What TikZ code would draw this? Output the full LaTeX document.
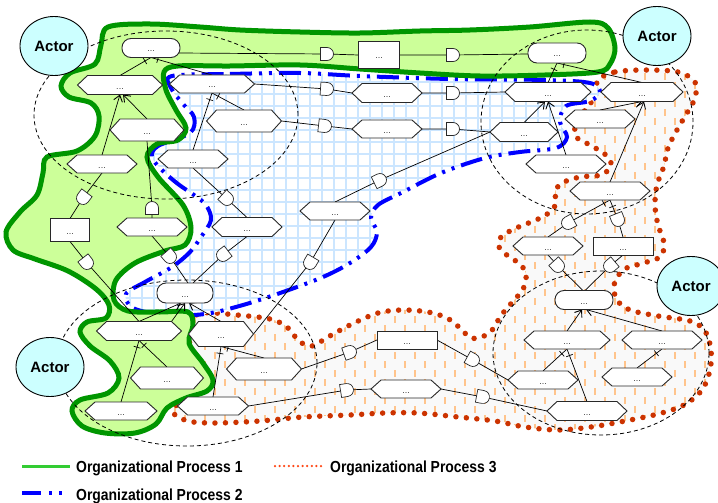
\documentclass[tikz,border=0pt]{standalone}
\usepackage{fontspec}
\setmainfont{Liberation Sans}
\newfontfamily\legfont{Liberation Sans}[FakeStretch=0.87]
\usetikzlibrary{shapes.geometric,shapes.misc,arrows.meta,decorations.markings}
\pgfdeclarelayer{back}
\pgfdeclarelayer{mid}
\pgfsetlayers{back,mid,main}
\definecolor{greenfill}{RGB}{204,255,153}
\definecolor{greenline}{RGB}{0,150,0}
\definecolor{leggreen}{RGB}{51,204,51}
\definecolor{reddot}{RGB}{204,51,0}
\definecolor{legred}{RGB}{255,70,20}
\definecolor{gridblue}{RGB}{204,230,255}
\definecolor{redbg}{RGB}{249,249,249}
\definecolor{dashor}{RGB}{255,196,140}
\definecolor{actorfill}{RGB}{204,255,255}
\definecolor{nodeline}{RGB}{40,40,40}
\definecolor{dotgray}{RGB}{60,60,60}
\newcommand{\actorfont}{\fontsize{15}{18}\selectfont\bfseries}
\newcommand{\dotsfont}{\fontsize{9}{9}\selectfont}
\newcommand{\legendfont}{\legfont\fontsize{16}{19}\selectfont\bfseries}

\newcommand{\greenshape}[1]{#1 plot[smooth cycle, tension=0.55] coordinates {
(108,27) (150,24) (200,27) (240,30) (300,32) (360,33) (420,31) (470,30) (530,27) (590,22) (608,28) (615,48) (610,64) (598,72) (545,75) (480,76) (420,73) (360,69) (300,65) (230,66) (178,66) (164,72) (166,90) (176,110) (186,128) (178,140) (157,144) (147,157) (158,177) (183,205) (191,228) (185,245) (165,251) (135,263) (116,280) (114,300) (128,311) (160,312) (188,312) (193,325) (189,343) (203,363) (213,380) (207,391) (186,398) (167,408) (156,424) (135,433) (105,433) (82,426) (72,411) (80,400) (108,393) (119,378) (110,361) (90,346) (80,332) (87,322) (106,318) (109,305) (96,289) (68,271) (35,259) (13,250) (6,232) (20,212) (37,195) (43,173) (47,157) (77,151) (95,136) (99,116) (91,103) (69,97) (61,86) (70,73) (95,64) (101,45)};}

\newcommand{\blueshape}[1]{#1 plot[smooth cycle, tension=0.55] coordinates {
(172,76) (230,74) (300,73) (360,76) (450,79) (545,80) (590,83) (600,92) (590,101) (566,106) (560,122) (567,137) (556,148) (520,152) (485,158) (441,173) (403,192) (378,205) (371,218) (377,232) (371,247) (350,263) (323,277) (283,292) (243,305) (205,314) (165,315) (133,308) (126,294) (145,282) (172,267) (190,252) (201,237) (211,220) (206,205) (194,195) (178,184) (162,170) (152,157) (158,146) (190,133) (194,117) (183,104) (171,88)};}

\newcommand{\redshape}[1]{#1 plot[smooth cycle, tension=0.55] coordinates {
(598,80) (615,72) (645,70) (678,72) (695,82) (695,98) (687,113) (677,130) (668,148) (664,166) (657,185) (655,205) (658,225) (664,243) (660,257) (640,264) (623,270) (614,285) (617,300) (630,310) (658,316) (690,321) (705,331) (711,350) (710,370) (702,390) (684,405) (658,414) (625,421) (591,427) (558,430) (525,427) (495,421) (458,417) (418,413) (385,413) (350,415) (303,417) (260,421) (215,423) (188,421) (173,412) (183,398) (197,385) (197,362) (190,345) (189,322) (203,313) (237,315) (270,319) (287,327) (299,341) (312,346) (328,337) (352,324) (378,313) (402,310) (428,312) (447,318) (460,328) (471,338) (484,336) (493,329) (500,317) (508,307) (517,297) (524,287) (526,274) (520,264) (508,256) (499,247) (501,237) (514,229) (531,222) (546,215) (556,204) (555,192) (562,183) (580,177) (601,175) (611,166) (607,156) (592,146) (576,137) (576,124) (586,109) (596,95)};}

\newcommand{\hexa}[5]{%
  \node[anc, minimum width=#4pt, minimum height=#5pt] (#1) at (#2,#3) {};
  \draw[nb, fill=white] (#1.west) -- ([xshift=10pt]#1.north west) -- ([xshift=-10pt]#1.north east) -- (#1.east) -- ([xshift=-10pt]#1.south east) -- ([xshift=10pt]#1.south west) -- cycle;
  \node[dotstxt] at ([yshift=-4pt]#1.center) {...};}
\newcommand{\pilln}[5]{%
  \node[pill, minimum width=#4pt, minimum height=#5pt] (#1) at (#2,#3) {};
  \node[dotstxt] at ([yshift=-4pt]#1.center) {...};}
\newcommand{\rectn}[5]{%
  \node[rbox, minimum width=#4pt, minimum height=#5pt] (#1) at (#2,#3) {};
  \node[dotstxt] at ([yshift=-4pt]#1.center) {...};}

\begin{document}
\begin{tikzpicture}[x=1pt,y=-1pt,
  nb/.style={draw=nodeline, line width=0.9pt},
  anc/.style={inner sep=0pt, outer sep=0pt},
  pill/.style={nb, fill=white, rounded corners=9pt, inner sep=0pt, outer sep=0pt},
  rbox/.style={nb, fill=white, inner sep=0pt, outer sep=0pt},
  dotstxt/.style={anchor=base, inner sep=0pt, font=\dotsfont, text=dotgray},
  gate/.style={shape=rounded rectangle, rounded rectangle left arc=none, draw=nodeline, fill=white, line width=0.7pt, minimum width=10pt, minimum height=13pt, inner sep=0pt, sloped, allow upside down, pos=1},
  conn/.style={line width=0.7pt, black},
  arr/.style={conn, -{Straight Barb[length=6pt,width=9pt,line width=0.9pt]}},
  dtick/.style={postaction={decorate}, decoration={markings, mark=at position 7pt with {\draw[line width=0.7pt] (0pt,-3.5pt) -- (0pt,3.5pt);}}},
  actor/.style={ellipse, draw, line width=0.9pt, fill=actorfill, minimum width=68pt, minimum height=59pt, inner sep=0pt, font=\actorfont},
  scopeline/.style={draw=black, line width=0.8pt, dash pattern=on 4pt off 3pt},
  reddots/.style={draw=reddot, line width=5.5pt, line cap=round, dash pattern=on 0pt off 10.5pt},
  bluedash/.style={draw=blue, line width=4pt, dash pattern=on 22pt off 7pt on 3pt off 7pt on 3pt off 7pt},
  orda/.style={dashor, line width=1.8pt, dash pattern=on 7pt off 11pt}
]
\useasboundingbox (0,0) rectangle (718,503);

\begin{pgfonlayer}{back}
\fill[white] (0,0) rectangle (718,503);
% Organizational Process 3
\begin{scope}
\redshape{\clip}
\fill[redbg] (160,50) rectangle (718,440);
\foreach \x in {165,185,...,716} \draw[orda] (\x,55) -- (\x,440);
\foreach \x in {175,195,...,716} \draw[orda, dash phase=9pt] (\x,55) -- (\x,440);
\end{scope}
\redshape{\draw[reddots]}
% Organizational Process 2
\begin{scope}
\blueshape{\clip}
\fill[white] (100,50) rectangle (620,340);
\foreach \x in {118,130,...,610} \draw[gridblue, line width=1.6pt] (\x,50) -- (\x,340);
\foreach \y in {58,70,...,335} \draw[gridblue, line width=1.6pt] (100,\y) -- (620,\y);
\end{scope}
\blueshape{\draw[bluedash]}
% Organizational Process 1
\greenshape{\draw[draw=greenline, line width=5pt, fill=greenfill]}
% actor scopes
\draw[scopeline] (166,115) ellipse [x radius=132pt, y radius=84pt];
\draw[scopeline] (587,122) ellipse [x radius=106pt, y radius=92pt];
\draw[scopeline] (187,363) ellipse [x radius=130pt, y radius=83pt];
\draw[scopeline] (601,353) ellipse [x radius=108pt, y radius=82pt];
\end{pgfonlayer}

% actors
\node[actor] (a1) at (54,46) {Actor};
\node[actor] (a2) at (657,36) {Actor};
\node[actor] (a3) at (50,367) {Actor};
\node[actor] (a4) at (691,286) {Actor};

% nodes
\pilln{n1}{151}{48}{58}{19}
\rectn{rct}{379}{55}{41}{27}
\pilln{rrtr}{557}{53}{58}{20}
\hexa{h1}{120}{85}{85}{19}
\hexa{h2}{212}{84}{85}{18}
\hexa{h3}{387}{93}{70}{19}
\hexa{h4}{548}{92}{86}{19}
\hexa{h5}{642}{92}{82}{19}
\hexa{h6}{147}{130}{74}{22}
\hexa{h7}{244}{121}{75}{22}
\hexa{h8}{387}{129}{70}{18}
\hexa{h9}{524}{132}{68}{19}
\hexa{h10}{600}{119}{70}{18}
\hexa{h11}{102}{164}{70}{18}
\hexa{h12}{193}{159}{70}{18}
\hexa{h13}{566}{164}{80}{18}
\hexa{h14}{610}{191}{80}{18}
\rectn{r1}{70}{230}{39}{23}
\hexa{h15}{152}{227}{70}{18}
\hexa{h16}{247}{227}{70}{19}
\hexa{h17}{335}{211}{70}{18}
\hexa{h18}{548}{246}{70}{18}
\rectn{r2}{623}{246}{60}{18}
\pilln{rr3}{584}{300}{58}{19}
\pilln{rr5}{185}{293}{56}{20}
\hexa{h19}{567}{340}{86}{18}
\hexa{h20}{662}{340}{80}{18}
\hexa{h21}{543}{380}{70}{18}
\hexa{h22}{637}{377}{70}{18}
\hexa{h23}{587}{411}{80}{19}
\rectn{r4}{407}{340}{60}{18}
\hexa{h24}{406}{389}{70}{18}
\hexa{h25}{139}{331}{85}{19}
\hexa{h26}{221}{334}{65}{25}
\hexa{h27}{167}{378}{73}{22}
\hexa{h28}{264}{369}{75}{22}
\hexa{h29}{121}{411}{72}{18}
\hexa{h30}{213}{406}{71}{18}

% gate positions
\coordinate (g1) at (327,54);
\coordinate (g2) at (453,55);
\coordinate (g3) at (327,89);
\coordinate (g4) at (453,93);
\coordinate (g5) at (325,126);
\coordinate (g6) at (453,129);
\coordinate (g7) at (83,198);
\coordinate (g8) at (152,208);
\coordinate (g9) at (227,199);
\coordinate (g10) at (170,257);
\coordinate (g11) at (223,255);
\coordinate (g12) at (310,263);
\coordinate (g13) at (380,180);
\coordinate (g14) at (87,263);
\coordinate (g15) at (350,352);
\coordinate (g16) at (347,390);
\coordinate (g17) at (473,360);
\coordinate (g18) at (483,397);
\coordinate (g19) at (568,223);
\coordinate (g20) at (618,220);
\coordinate (g21) at (558,266);
\coordinate (g22) at (610,266);

\begin{pgfonlayer}{mid}
% links through gates
\draw[conn] ([xshift=-2pt,yshift=-5pt]n1.east) -- node[gate]{} (g1) -- (rct.west);
\draw[conn] (rct.east) -- node[gate]{} (g2) -- ([yshift=-1pt]rrtr.west);
\draw[conn] (h2.east) -- node[gate]{} (g3) -- (h3.west);
\draw[conn] (h3.east) -- node[gate]{} (g4) -- (h4.west);
\draw[conn] (h7.east) -- node[gate]{} (g5) -- (h8.west);
\draw[conn] (h8.east) -- node[gate]{} (g6) -- (h9.west);
\draw[conn] (h11.south) -- node[gate]{} (g7) -- (r1.north);
\draw[conn] (h15.north) -- node[gate]{} (g8) -- (h6.south);
\draw[conn] (h12.south) -- node[gate]{} (g9) -- (h16.north);
\draw[conn] (h15.south) -- node[gate]{} (g10) -- ([xshift=3pt]rr5.north);
\draw[conn] (h16.south) -- node[gate]{} (g11) -- ([xshift=8pt]rr5.north);
\draw[conn] (h17.south) -- node[gate]{} (g12) -- (h26.east);
\draw[conn] (h17.north) -- node[gate]{} (g13) -- (h9.west);
\draw[conn] (r1.south) -- node[gate]{} (g14) -- (h25.north);
\draw[conn] (h28.east) -- node[gate]{} (g15) -- (r4.west);
\draw[conn] (h30.east) -- node[gate]{} (g16) -- (h24.west);
\draw[conn] (r4.east) -- node[gate]{} (g17) -- (h21.west);
\draw[conn] (h24.east) -- node[gate]{} (g18) -- (h23.west);
\draw[conn,dtick] (h14.south) -- node[gate]{} (g19) -- (h18.north);
\draw[conn,dtick] (h14.south) -- node[gate]{} (g20) -- (r2.north);
\draw[conn] (h18.south) -- node[gate]{} (g21) -- ([xshift=-1pt]rr3.north);
\draw[conn] (r2.south) -- node[gate]{} (g22) -- ([xshift=1pt]rr3.north);
% decompositions
\draw[conn,dtick] (n1.south) -- (h1.north);
\draw[conn,dtick] (n1.south) -- (h2.north);
\draw[conn,dtick] (h2.south) -- (h12.north);
\draw[conn,dtick] (h2.south) -- (h7.north);
\draw[conn,dtick] (rrtr.south) -- (h4.north);
\draw[conn,dtick] (rrtr.south) -- (h5.north);
\draw[conn,dtick] (h25.south) -- (h27.north);
\draw[conn,dtick] (h25.south) -- (h29.north);
\draw[conn,dtick] (h26.south) -- (h30.north);
\draw[conn,dtick] (h26.south) -- (h28.north);
\draw[conn,dtick] (h19.south) -- (h21.north);
\draw[conn,dtick] (h19.south) -- (h23.north);
\draw[conn,dtick] (h20.south) -- (h22.north);
% contributions
\draw[arr] (h6.north) -- ([xshift=3pt]h1.south);
\draw[arr] (h11.north) -- (h1.south);
\draw[arr] (h9.north) -- ([xshift=-3pt]h4.south);
\draw[arr] (h13.north) -- (h4.south);
\draw[arr] (h10.north) -- (h5.south);
\draw[arr] (h14.north) -- ([xshift=2pt]h5.south);
\draw[arr] (h25.north) -- ([xshift=-4pt]rr5.south);
\draw[arr] ([xshift=-10pt]h25.north east) -- (rr5.south);
\draw[arr] (h26.north) -- ([xshift=4pt]rr5.south);
\draw[arr] (h19.north) -- ([xshift=-2pt]rr3.south);
\draw[arr] (h20.north) -- ([xshift=2pt]rr3.south);
\end{pgfonlayer}

% legend
\coordinate (lg1a) at (22,466); \coordinate (lg1b) at (70,466);
\coordinate (lg3a) at (275,466); \coordinate (lg3b) at (322,466);
\coordinate (lg2a) at (22,493); \coordinate (lg2b) at (66,493);
\draw[draw=leggreen, line width=3pt] (lg1a) -- (lg1b);
\draw[draw=legred, line width=2.5pt, line cap=round, dash pattern=on 0pt off 4.6pt] (lg3a) -- (lg3b);
\draw[draw=blue, line width=3.5pt, dash pattern=on 19pt off 8pt on 3pt off 7pt on 3pt off 40pt] (lg2a) -- (lg2b);
\node[anchor=base west, inner sep=0pt, font=\legendfont] (t1) at (76,472) {Organizational Process 1};
\node[anchor=base west, inner sep=0pt, font=\legendfont] (t3) at (330,472) {Organizational Process 3};
\node[anchor=base west, inner sep=0pt, font=\legendfont] (t2) at (76,500) {Organizational Process 2};
\end{tikzpicture}
\end{document}
